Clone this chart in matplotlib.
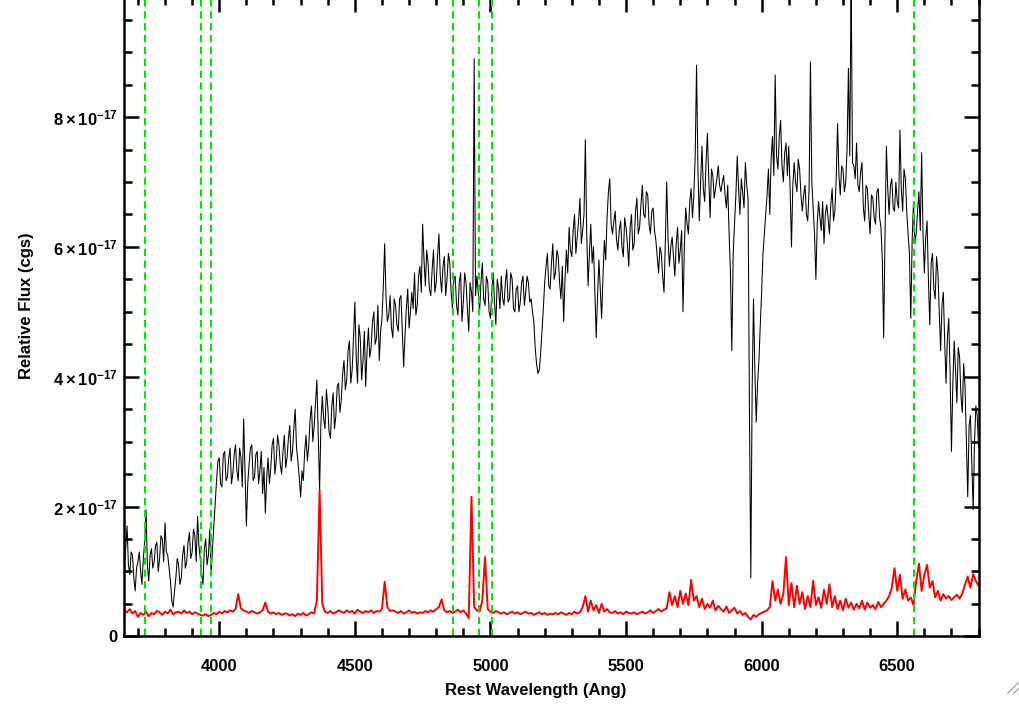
import numpy as np
import matplotlib
matplotlib.use("Agg")
import matplotlib.pyplot as plt
from matplotlib.ticker import FixedLocator, FuncFormatter
from matplotlib.lines import Line2D

wave = np.arange(3650, 6801, 10)
wave_mid = np.arange(3655, 6800, 10)

# galaxy spectrum, units of 1e-17
flux = [
    1.05, 1.70, 0.95, 1.25, 0.70, 1.15, 1.00, 1.20, 1.95, 0.85,   # 3650
    1.35, 1.15, 1.45, 1.20, 1.50, 1.75, 1.25, 0.85, 0.45, 0.90,   # 3750
    1.10, 0.90, 1.40, 1.15, 1.60, 1.30, 1.55, 1.85, 1.20, 0.80,   # 3850
    1.50, 1.25, 0.95, 1.70, 2.40, 2.75, 2.30, 2.85, 2.45, 2.90,   # 3950
    2.50, 2.95, 2.40, 2.75, 3.35, 1.70, 2.65, 2.95, 2.45, 2.85,   # 4050
    2.55, 2.20, 1.90, 2.75, 2.60, 3.05, 2.70, 2.95, 2.50, 3.10,   # 4150
    2.75, 3.25, 2.85, 3.50, 2.70, 2.15, 2.40, 3.10, 2.95, 3.55,   # 4250
    3.25, 3.95, 2.25, 3.70, 3.20, 3.55, 3.05, 3.75, 3.40, 3.90,   # 4350
    3.65, 4.25, 3.95, 4.55, 4.10, 5.15, 3.90, 4.60, 4.25, 3.85,   # 4450
    4.75, 4.45, 5.00, 4.60, 4.25, 4.90, 6.05, 4.85, 5.25, 4.60,   # 4550
    5.10, 4.70, 5.25, 4.15, 5.05, 4.75, 5.30, 5.60, 5.10, 5.70,   # 4650
    6.35, 5.40, 5.75, 5.25, 5.95, 5.45, 6.20, 5.30, 5.85, 5.50,   # 4750
    5.75, 5.05, 5.55, 4.95, 5.60, 5.15, 5.45, 4.70, 5.30, 8.90,   # 4850
    5.55, 5.00, 5.75, 5.10, 5.45, 4.90, 5.60, 4.80, 5.35, 5.55,   # 4950
    5.10, 5.65, 5.20, 5.50, 5.00, 5.40, 5.15, 5.55, 5.30, 5.45,   # 5050
    5.20, 4.85, 4.20, 4.10, 4.70, 5.45, 5.90, 5.35, 6.05, 5.60,   # 5150
    5.85, 5.20, 4.85, 5.95, 6.30, 5.85, 6.50, 6.15, 6.75, 6.25,   # 5250
    7.65, 5.40, 6.35, 6.00, 4.60, 5.80, 4.90, 6.10, 6.45, 7.05,   # 5350
    6.20, 6.55, 5.95, 6.40, 5.85, 6.30, 5.70, 6.50, 6.05, 6.75,   # 5450
    6.30, 6.95, 6.45, 6.80, 6.20, 6.60, 6.10, 5.60, 5.90, 5.30,   # 5550
    7.00, 5.70, 6.15, 5.55, 6.30, 5.95, 5.00, 6.60, 6.20, 6.90,   # 5650
    6.80, 8.80, 6.40, 7.55, 6.70, 7.75, 6.45, 7.10, 6.90, 7.25,   # 5750
    6.85, 7.10, 6.60, 6.20, 4.40, 6.35, 7.40, 6.50, 6.85, 7.30,   # 5850
    6.75, 0.90, 5.20, 3.30, 4.25, 5.30, 6.20, 6.80, 6.50, 7.70,   # 5950
    8.65, 7.20, 7.95, 7.00, 7.60, 7.55, 6.00, 7.30, 6.85, 7.20,   # 6050
    6.55, 6.95, 6.40, 8.85, 6.60, 5.50, 6.70, 6.25, 6.05, 6.65,   # 6150
    6.20, 6.90, 6.55, 7.90, 6.80, 7.20, 7.00, 8.75, 10.2, 7.25,   # 6250
    7.60, 6.85, 7.30, 6.40, 6.90, 6.20, 6.75, 6.35, 6.90, 6.30,   # 6350
    4.60, 7.55, 6.50, 7.05, 6.55, 6.70, 7.80, 6.55, 7.05, 6.20,   # 6450
    4.90, 6.70, 6.20, 6.85, 7.45, 5.60, 6.40, 4.80, 5.90, 5.20,   # 6550
    5.60, 4.40, 5.30, 3.90, 4.90, 2.85, 4.55, 3.60, 4.30, 3.45,   # 6650
    3.85, 2.15, 3.40, 1.95, 3.55, 2.90,                           # 6750
]

# same spectrum, pixels in between (3655, 3665, ...)
flux_mid = [
    1.35, 1.10, 1.30, 0.90, 1.05, 1.30, 0.80, 1.45, 1.10, 1.25,   # 3655
    1.05, 1.40, 1.00, 1.55, 1.15, 1.30, 1.05, 0.55, 0.70, 1.20,   # 3755
    0.80, 1.25, 1.05, 1.45, 1.20, 1.65, 1.15, 1.40, 0.95, 1.35,   # 3855
    1.10, 1.65, 1.35, 2.05, 2.70, 2.35, 2.80, 2.40, 2.75, 2.35,   # 3955
    2.80, 2.55, 2.90, 2.30, 2.50, 2.35, 2.90, 2.40, 2.80, 2.35,   # 4055
    2.85, 2.60, 2.45, 2.35, 2.95, 2.50, 3.10, 2.65, 2.85, 2.60,   # 4155
    3.05, 2.70, 3.20, 2.90, 2.45, 2.55, 2.85, 2.70, 3.35, 3.00,   # 4255
    3.60, 3.10, 3.30, 3.35, 3.80, 3.15, 3.55, 3.20, 3.85, 3.45,   # 4355
    4.05, 3.80, 4.40, 3.90, 4.60, 4.30, 4.80, 3.95, 4.70, 4.40,   # 4455
    4.30, 4.85, 4.50, 5.10, 4.70, 5.40, 5.20, 4.95, 4.75, 5.20,   # 4555
    4.80, 5.20, 4.70, 4.65, 5.35, 5.00, 5.05, 4.95, 5.55, 5.30,   # 4655
    5.80, 5.95, 5.35, 5.65, 5.30, 5.85, 5.55, 5.70, 5.25, 5.90,   # 4755
    5.30, 5.50, 5.10, 5.45, 4.85, 5.60, 5.05, 5.45, 5.00, 5.25,   # 4855
    5.30, 5.45, 5.20, 5.55, 5.00, 5.30, 5.15, 5.50, 5.05, 5.20,   # 4955
    5.45, 5.15, 5.60, 5.05, 5.35, 5.00, 5.45, 5.10, 5.55, 5.15,   # 5055
    5.00, 4.45, 4.05, 4.35, 5.05, 5.70, 5.40, 5.75, 5.50, 5.95,   # 5155
    5.45, 5.70, 5.50, 5.60, 5.95, 6.25, 5.90, 6.40, 6.05, 6.50,   # 5255
    6.20, 5.90, 5.75, 5.30, 5.25, 5.35, 5.55, 5.80, 6.85, 6.35,   # 5355
    6.40, 6.10, 6.25, 6.00, 6.45, 6.05, 6.30, 5.95, 6.55, 6.20,   # 5455
    6.65, 6.50, 6.85, 6.35, 6.55, 6.25, 5.85, 6.00, 5.55, 6.10,   # 5555
    6.10, 6.00, 5.85, 6.05, 5.75, 6.25, 6.00, 6.35, 6.70, 6.45,   # 5655
    7.40, 7.20, 7.00, 6.90, 7.30, 7.05, 7.20, 6.75, 7.05, 6.95,   # 5755
    7.00, 6.80, 6.95, 5.60, 5.90, 6.80, 6.90, 7.05, 6.60, 6.95,   # 5855
    3.50, 3.80, 4.10, 3.90, 4.80, 5.90, 6.50, 7.20, 7.35, 7.10,   # 5955
    7.40, 7.70, 7.25, 7.45, 7.10, 6.90, 6.95, 7.00, 7.35, 6.80,   # 6055
    6.80, 6.50, 6.90, 7.00, 6.20, 6.35, 6.45, 6.70, 6.50, 6.45,   # 6155
    6.65, 6.40, 7.05, 7.10, 7.25, 6.85, 7.50, 7.40, 7.30, 7.05,   # 6255
    6.95, 7.15, 6.60, 6.95, 6.50, 6.80, 6.45, 6.85, 6.45, 5.80,   # 6355
    6.20, 6.90, 6.95, 6.60, 7.00, 6.60, 6.90, 7.20, 6.55, 5.90,   # 6455
    6.10, 6.05, 6.55, 6.25, 6.20, 6.15, 5.50, 5.75, 5.35, 5.85,   # 6555
    5.00, 5.10, 4.55, 4.60, 4.05, 3.90, 4.10, 4.45, 3.70, 4.20,   # 6655
    3.00, 3.25, 2.70, 3.00, 3.40,                                 # 6755
]

# second (red) spectrum, units of 1e-17
flux_red = [
    0.40, 0.37, 0.42, 0.35, 0.39, 0.30, 0.36, 0.33, 0.38, 0.31,   # 3650
    0.36, 0.34, 0.39, 0.37, 0.33, 0.38, 0.35, 0.41, 0.34, 0.37,   # 3750
    0.38, 0.35, 0.40, 0.36, 0.38, 0.34, 0.37, 0.35, 0.33, 0.32,   # 3850
    0.34, 0.31, 0.33, 0.36, 0.34, 0.38, 0.35, 0.39, 0.37, 0.40,   # 3950
    0.38, 0.42, 0.65, 0.43, 0.40, 0.38, 0.36, 0.39, 0.37, 0.35,   # 4050
    0.37, 0.40, 0.52, 0.38, 0.35, 0.37, 0.34, 0.36, 0.33, 0.35,   # 4150
    0.35, 0.32, 0.34, 0.31, 0.35, 0.33, 0.36, 0.32, 0.34, 0.37,   # 4250
    0.35, 0.55, 2.25, 0.50, 0.38, 0.36, 0.39, 0.35, 0.37, 0.40,   # 4350
    0.38, 0.36, 0.40, 0.37, 0.39, 0.35, 0.41, 0.38, 0.36, 0.39,   # 4450
    0.37, 0.40, 0.36, 0.39, 0.38, 0.42, 0.84, 0.45, 0.39, 0.40,   # 4550
    0.38, 0.36, 0.39, 0.35, 0.37, 0.40, 0.36, 0.38, 0.35, 0.37,   # 4650
    0.36, 0.39, 0.37, 0.40, 0.38, 0.42, 0.45, 0.57, 0.40, 0.37,   # 4750
    0.39, 0.36, 0.38, 0.41, 0.37, 0.40, 0.35, 0.28, 2.15, 0.45,   # 4850
    0.40, 0.38, 0.55, 1.22, 0.42, 0.38, 0.36, 0.39, 0.37, 0.35,   # 4950
    0.37, 0.34, 0.36, 0.38, 0.35, 0.37, 0.34, 0.36, 0.38, 0.35,   # 5050
    0.36, 0.33, 0.35, 0.37, 0.34, 0.36, 0.33, 0.35, 0.34, 0.36,   # 5150
    0.34, 0.37, 0.35, 0.33, 0.36, 0.34, 0.38, 0.35, 0.37, 0.45,   # 5250
    0.62, 0.38, 0.55, 0.40, 0.48, 0.36, 0.50, 0.38, 0.42, 0.37,   # 5350
    0.36, 0.39, 0.35, 0.37, 0.34, 0.38, 0.36, 0.35, 0.37, 0.34,   # 5450
    0.36, 0.38, 0.35, 0.37, 0.40, 0.36, 0.39, 0.42, 0.38, 0.41,   # 5550
    0.43, 0.68, 0.48, 0.62, 0.45, 0.70, 0.50, 0.66, 0.48, 0.87,   # 5650
    0.55, 0.62, 0.45, 0.58, 0.42, 0.50, 0.44, 0.55, 0.40, 0.47,   # 5750
    0.42, 0.38, 0.46, 0.36, 0.40, 0.44, 0.35, 0.39, 0.33, 0.36,   # 5850
    0.30, 0.26, 0.33, 0.30, 0.34, 0.36, 0.38, 0.40, 0.45, 0.85,   # 5950
    0.55, 0.72, 0.50, 0.65, 1.22, 0.48, 0.82, 0.45, 0.78, 0.50,   # 6050
    0.68, 0.42, 0.62, 0.45, 0.86, 0.48, 0.60, 0.44, 0.72, 0.50,   # 6150
    0.80, 0.45, 0.62, 0.42, 0.55, 0.40, 0.58, 0.44, 0.52, 0.41,   # 6250
    0.50, 0.43, 0.55, 0.41, 0.52, 0.44, 0.48, 0.42, 0.53, 0.45,   # 6350
    0.50, 0.55, 0.62, 0.75, 1.05, 0.70, 0.95, 0.58, 0.72, 0.55,   # 6450
    0.60, 0.48, 0.85, 1.12, 0.70, 0.95, 1.10, 0.75, 0.85, 0.60,   # 6550
    0.70, 0.55, 0.65, 0.58, 0.62, 0.56, 0.60, 0.64, 0.58, 0.66,   # 6650
    0.80, 0.92, 0.75, 0.96, 0.85, 0.78,                           # 6750
]

# marked lines: [OII], CaII K, H, Hbeta, [OIII], Halpha
lines = [3727, 3934, 3969, 4861, 4959, 5007, 6563]

x_major = [4000, 4500, 5000, 5500, 6000, 6500]
x_minor = list(range(3700, 6801, 100))
y_major = [0, 2e-17, 4e-17, 6e-17, 8e-17]
y_minor = [0.5e-17 * k for k in range(1, 20)]

# interleave the two sets of pixels
wave_all = np.concatenate([wave, wave_mid])
flux_all = np.concatenate([flux, flux_mid]) * 1e-17
order = np.argsort(wave_all)
wave_all = wave_all[order]
flux_all = flux_all[order]
flux_red = np.array(flux_red) * 1e-17

plt.rcParams['font.family'] = ['Liberation Sans', 'DejaVu Sans']
plt.rcParams['font.weight'] = 'bold'
plt.rcParams['mathtext.fontset'] = 'custom'
plt.rcParams['mathtext.rm'] = 'Liberation Sans:bold'
plt.rcParams['mathtext.it'] = 'Liberation Sans:bold'
plt.rcParams['mathtext.bf'] = 'Liberation Sans:bold'

fig = plt.figure(figsize=(10.2, 7.06), dpi=100)
ax = fig.add_axes([0.1219, 0.0987, 0.8375, 0.9055])

ax.plot(wave_all, flux_all, color='black', lw=0.75)
ax.plot(wave, flux_red, color='#ff0000', lw=1.4)
for w in lines:
    ax.axvline(w, color='#00e600', lw=1.5, dashes=(3.5, 2.2))

ax.set_xlim(3650, 6800)
ax.set_ylim(0, 9.85e-17)

ax.xaxis.set_major_locator(FixedLocator(x_major))
ax.xaxis.set_minor_locator(FixedLocator(x_minor))
ax.yaxis.set_major_locator(FixedLocator(y_major))
ax.yaxis.set_minor_locator(FixedLocator(y_minor))


def yfmt(v, pos):
    m = v / 1e-17
    if abs(m) < 1e-6:
        return '0'
    return r'$%d\times10^{-17}$' % round(m)


ax.yaxis.set_major_formatter(FuncFormatter(yfmt))

for s in ax.spines.values():
    s.set_linewidth(1.8)
ax.tick_params(which='both', direction='in', top=True, right=True, width=1.8,
               labelsize=12)
ax.tick_params(which='major', length=11)
ax.tick_params(which='minor', length=6)
ax.tick_params(axis='x', which='major', pad=16)
ax.tick_params(axis='y', which='major', pad=5)

ax.set_xlabel('Rest Wavelength (Ang)', fontsize=12, fontweight='bold')
ax.set_ylabel('Relative Flux (cgs)', fontsize=12, fontweight='bold')
ax.xaxis.set_label_coords(0.482, -0.073)
ax.yaxis.set_label_coords(-0.106, 0.517)

# window resize grip in the corner
for d in (0.0, 0.006):
    fig.add_artist(Line2D([0.988 + d, 0.999], [0.018, 0.018 + (0.011 - d) * 1.445],
                          color='#999999', lw=0.8))

fig.savefig('out.png', dpi=100)
